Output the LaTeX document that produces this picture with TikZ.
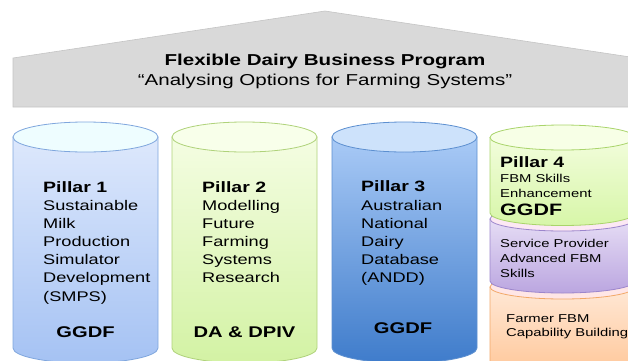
\documentclass[tikz,border=0pt]{standalone}
\usepackage{fontspec}
\setmainfont{Liberation Sans}[FakeStretch=1.3]
\definecolor{roof}{HTML}{D9D9D9}
\definecolor{roofline}{HTML}{C4C4C4}
\definecolor{aTop}{HTML}{DDE8FC}\definecolor{aBot}{HTML}{A5C2F3}\definecolor{aCap}{HTML}{EEFDFF}\definecolor{aLine}{HTML}{7FA6DD}
\definecolor{bTop}{HTML}{F4FDE2}\definecolor{bBot}{HTML}{D3F2A4}\definecolor{bCap}{HTML}{F8FFEA}\definecolor{bLine}{HTML}{AFD27A}
\definecolor{cTop}{HTML}{A9CAF6}\definecolor{cBot}{HTML}{3F7CCB}\definecolor{cCap}{HTML}{CDE2FB}\definecolor{cLine}{HTML}{5C8FD0}
\definecolor{gTop}{HTML}{F2FDDC}\definecolor{gBot}{HTML}{D7F6A8}\definecolor{gCap}{HTML}{F7FFE6}\definecolor{gLine}{HTML}{A9D46B}
\definecolor{pTop}{HTML}{E6DDF5}\definecolor{pBot}{HTML}{BBA6E0}\definecolor{pCap}{HTML}{FCE8F4}\definecolor{pLine}{HTML}{9C86CC}
\definecolor{oTop}{HTML}{FFE8D6}\definecolor{oBot}{HTML}{FFC08C}\definecolor{oCap}{HTML}{FFE6E6}\definecolor{oLine}{HTML}{F2A868}
\tikzset{
  txt/.style={inner sep=0pt, anchor=base west, font=\fontsize{14}{16}\selectfont},
  head/.style={inner sep=0pt, anchor=base west, font=\fontsize{15}{17}\selectfont\bfseries},
  fund/.style={inner sep=0pt, anchor=base, font=\fontsize{15.5}{17}\selectfont\bfseries},
  small/.style={inner sep=0pt, anchor=base west, font=\fontsize{11.4}{13}\selectfont},
}
% body: #1 left x, #2 right x, #3 top y, #4 bottom y, #5 ry, #6 top col, #7 bottom col, #8 line, #9 cap
\newcommand{\cylbody}[9]{%
  \pgfmathsetmacro{\rxx}{(#2-#1)/2}%
  \shade[top color=#6, bottom color=#7, draw=#8, line width=0.8pt]
    (#1,#3) -- (#1,#4) arc[start angle=180, end angle=360, x radius=\rxx, y radius=#5] -- (#2,#3) -- cycle;
  \filldraw[fill=#9, draw=#8, line width=0.8pt] ({(#1+#2)/2},#3) ellipse[x radius=\rxx, y radius=#5];
}
\begin{document}
\begin{tikzpicture}[x=1pt,y=1pt]
\useasboundingbox (0,0) rectangle (628,360);
\clip (0,0) rectangle (628,360);
% roof
\filldraw[fill=roof, draw=roofline, line width=0.6pt]
  (13,253) -- (13,302) -- (325,349) -- (637,302) -- (637,253) -- cycle;
\node (title) [inner sep=0pt, anchor=base, font=\fontsize{15.8}{18}\selectfont\bfseries] at (325,294.4) {Flexible Dairy Business Program};
\node (sub) [inner sep=0pt, anchor=base, font=\fontsize{15.8}{18}\selectfont] at (325,274.5) {“Analysing Options for Farming Systems”};
% cylinders
\cylbody{13}{158}{223}{12}{15}{aTop}{aBot}{aLine}{aCap}
\cylbody{172}{317}{223}{12}{15}{bTop}{bBot}{bLine}{bCap}
\cylbody{332}{477}{223}{12}{15}{cTop}{cBot}{cLine}{cCap}
% pillar 4 stack
\cylbody{490}{635}{73}{-20}{12}{oTop}{oBot}{oLine}{oCap}
\cylbody{490}{635}{141}{79}{12}{pTop}{pBot}{pLine}{pCap}
\cylbody{490}{635}{222.5}{147}{12.5}{gTop}{gBot}{gLine}{gCap}
% pillar 1 text
\node (p1h) [head] at (43,167.6) {Pillar 1};
\foreach \t [count=\i] in {Sustainable,Milk,Production,Simulator,Development,(SMPS)}
  \node (p1l\i) [txt] at (43,{150-(\i-1)*18.2}) {\t};
\node (p1f) [fund] at (85.5,22.4) {GGDF};
% pillar 2 text
\node (p2h) [head] at (202,167.6) {Pillar 2};
\foreach \t [count=\i] in {Modelling,Future,Farming,Systems,Research}
  \node (p2l\i) [txt] at (202,{150-(\i-1)*18.2}) {\t};
\node (p2f) [fund] at (244.5,22.4) {DA \& DPIV};
% pillar 3 text
\node (p3h) [head] at (361,168.6) {Pillar 3};
\foreach \t [count=\i] in {Australian,National,Dairy,Database,(ANDD)}
  \node (p3l\i) [txt] at (361,{150-(\i-1)*18.2}) {\t};
\node (p3f) [fund] at (403,26.4) {GGDF};
% pillar 4 text
\node (p4h) [head] at (500,192.6) {Pillar 4};
\node (p4a) [small] at (500,178) {FBM Skills};
\node (p4b) [small] at (500,163) {Enhancement};
\node (p4f) [head, font=\fontsize{16.5}{18}\selectfont\bfseries] at (500,144.2) {GGDF};
\node (p4c) [small] at (500,113) {Service Provider};
\node (p4d) [small] at (500,98) {Advanced FBM};
\node (p4e) [small] at (500,83) {Skills};
\node (p4g) [small] at (506,38) {Farmer FBM};
\node (p4i) [small] at (506,24) {Capability Building};
\end{tikzpicture}
\end{document}
